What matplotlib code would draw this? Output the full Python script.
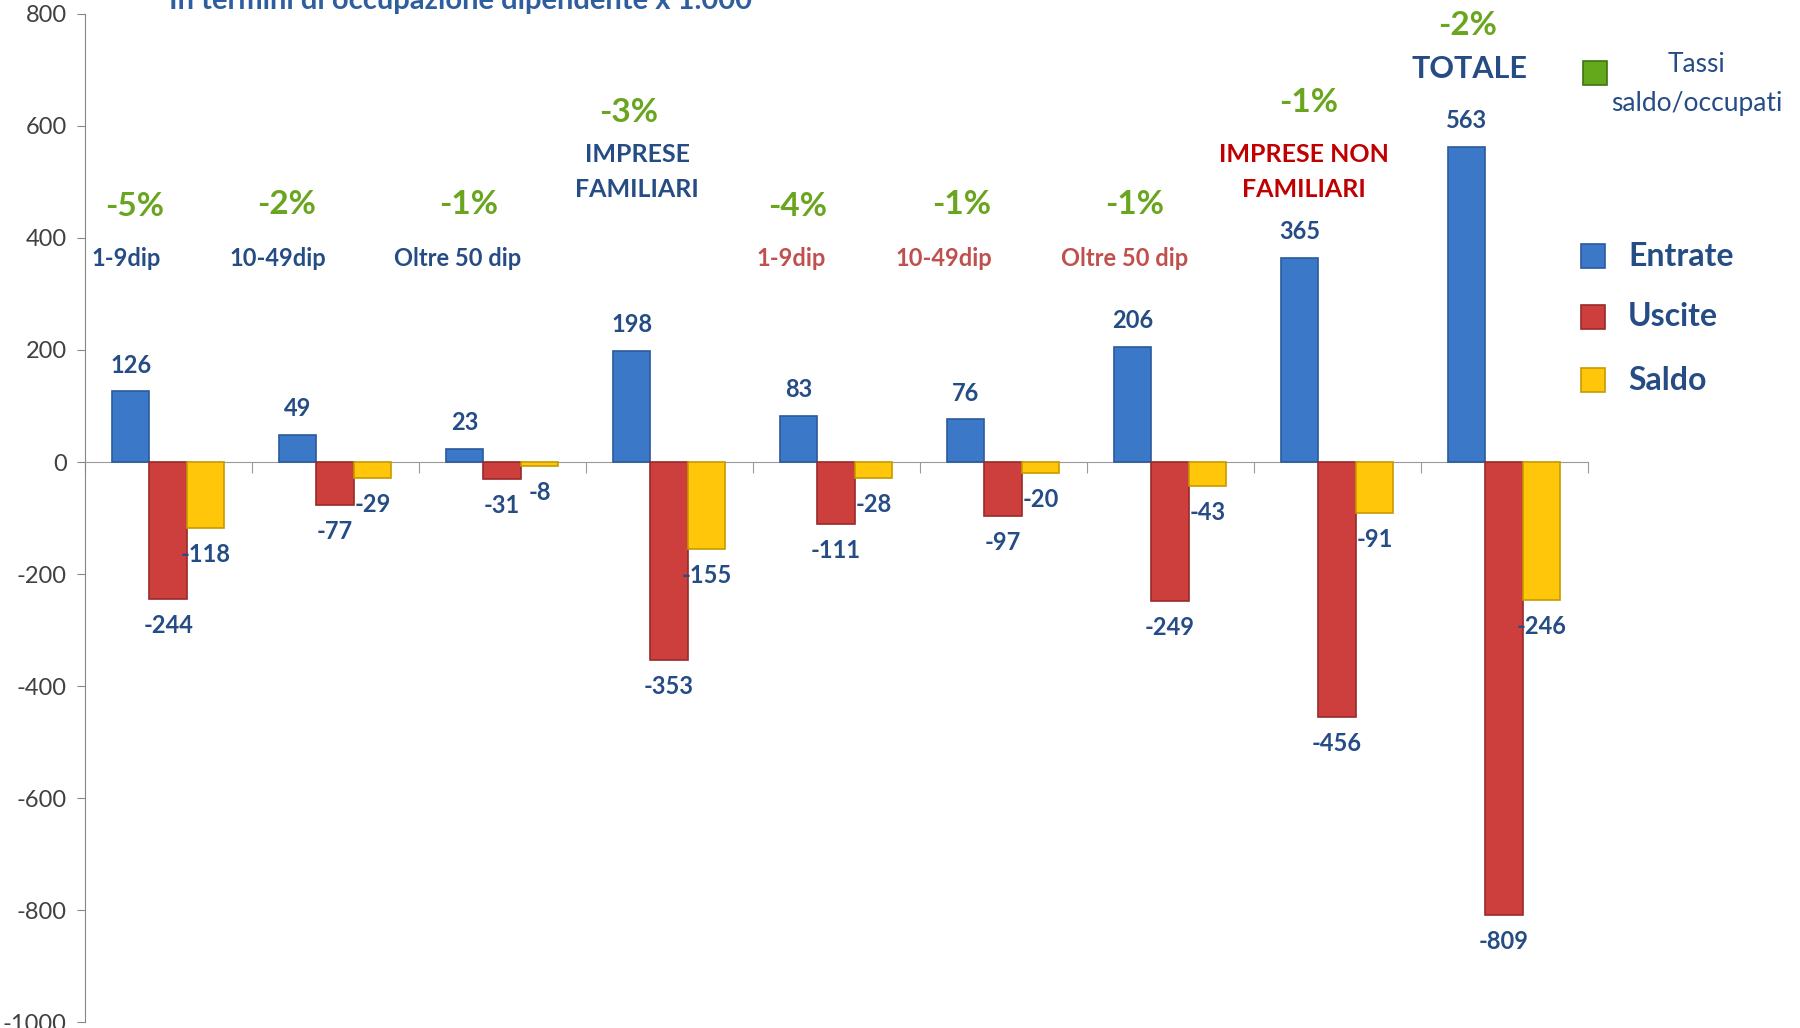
import numpy as np
import matplotlib
matplotlib.use("Agg")
import matplotlib.pyplot as plt
from matplotlib.patches import Rectangle

plt.rcParams["font.family"] = ["Lato", "DejaVu Sans"]

# --- data -------------------------------------------------------------
groups = ["1-9dip", "10-49dip", "Oltre 50 dip", "IMPRESE FAMILIARI",
          "1-9dip", "10-49dip", "Oltre 50 dip", "IMPRESE NON FAMILIARI",
          "TOTALE"]
entrate = [126, 49, 23, 198, 83, 76, 206, 365, 563]
uscite = [-244, -77, -31, -353, -111, -97, -249, -456, -809]
saldo = [-118, -29, -8, -155, -28, -20, -43, -91, -246]
tassi = ["-5%", "-2%", "-1%", "-3%", "-4%", "-1%", "-1%", "-1%", "-2%"]
yticks = [-1000, -800, -600, -400, -200, 0, 200, 400, 600, 800]

C_BLUE = "#3B78C8"
C_RED = "#CC3F3C"
C_YEL = "#FFC60A"
C_GREEN = "#6AA51F"
C_TXT = "#254C84"
C_SUBRED = "#C0504D"
C_DKRED = "#C00000"

fig = plt.figure(figsize=(18, 10.28), dpi=100)
ax = fig.add_axes([0.047, 0.0058, 0.835, 0.9806])

x = np.arange(len(groups))
w = 0.224
series = [(entrate, C_BLUE, "#2A5A9C", -w),
          (uscite, C_RED, "#962B29", 0.0),
          (saldo, C_YEL, "#C79A00", w)]

for vals, col, edge, off in series:
    bars = ax.bar(x + off, vals, width=w, color=col, edgecolor=edge,
                  linewidth=1.2, zorder=3)
    for b, v in zip(bars, vals):
        cx = b.get_x() + b.get_width() / 2
        dy = 19 if v > 0 else -19
        ax.annotate(f"{v}", (cx, v), xytext=(0, dy), textcoords="offset points",
                    ha="center", va="center", fontsize=17, fontweight="bold",
                    color=C_TXT, zorder=5)

# --- axes styling ------------------------------------------------------
ax.set_xlim(-0.5, len(groups) - 0.5)
ax.set_ylim(-1000, 800)
ax.set_yticks(yticks)
ax.set_yticklabels([str(t) for t in yticks], fontsize=17, color="#404040")
ax.set_xticks(np.arange(-0.5, len(groups), 1.0))
ax.set_xticklabels([])
for s in ("top", "right"):
    ax.spines[s].set_visible(False)
ax.spines["bottom"].set_position(("data", 0))
ax.spines["bottom"].set_color("#9A9A9A")
ax.spines["left"].set_color("#868686")
ax.tick_params(axis="x", direction="out", length=8, color="#9A9A9A")
ax.tick_params(axis="y", direction="out", length=6, pad=7, color="#868686")

# --- group annotations -------------------------------------------------
pct_pos = [(-0.20, 456), (0.71, 460), (1.80, 460), (2.76, 624), (3.77, 456),
           (4.75, 460), (5.79, 460), (6.83, 642), (7.78, 780)]
for (px, py), t in zip(pct_pos, tassi):
    ax.text(px, py, t, ha="center", va="center", fontsize=24,
            fontweight="bold", color=C_GREEN)

sub_pos = [(-0.25, 364), (0.655, 364), (1.735, 364), None, (3.73, 364),
           (4.645, 364), (5.725, 364), None, None]
sub_col = [C_TXT, C_TXT, C_TXT, None, C_SUBRED, C_SUBRED, C_SUBRED, None, None]
for pos, name, col in zip(sub_pos, groups, sub_col):
    if pos is None:
        continue
    ax.text(pos[0], pos[1], name, ha="center", va="center", fontsize=17,
            fontweight="bold", color=col)

ax.text(2.81, 518, "IMPRESE\nFAMILIARI", ha="center", va="center",
        fontsize=18, color=C_TXT, linespacing=1.6, fontweight="bold")
ax.text(6.80, 518, "IMPRESE NON\nFAMILIARI", ha="center", va="center",
        fontsize=18, color=C_DKRED, linespacing=1.6, fontweight="bold")
ax.text(7.79, 702, "TOTALE", ha="center", va="center", fontsize=22,
        fontweight="bold", color=C_TXT)

# --- title (cut at top like the original) ------------------------------
fig.text(0.256, 0.991, "In termini di occupazione dipendente x 1.000",
         ha="center", va="baseline", fontsize=21, fontweight="bold",
         color="#2F5E9E")

# --- legend -----------------------------------------------------------
W, H = 1800, 1028
sq = 24


def square(cx, cy, col, edge):
    fig.patches.append(Rectangle(((cx - sq / 2) / W, 1 - (cy + sq / 2) / H),
                                 sq / W, sq / H, transform=fig.transFigure,
                                 facecolor=col, edgecolor=edge, linewidth=1.2))


square(1595, 73, "#64A81C", "#3F7410")
fig.text(1697 / W, 1 - 64 / H, "Tassi", ha="center", va="center",
         fontsize=19, color=C_TXT)
fig.text(1697 / W, 1 - 103 / H, "saldo/occupati", ha="center", va="center",
         fontsize=19, color=C_TXT)

leg = [("Entrate", C_BLUE, "#2A5A9C", 256),
       ("Uscite", C_RED, "#962B29", 317),
       ("Saldo", C_YEL, "#C79A00", 380)]
for name, col, edge, cy in leg:
    square(1593, cy, col, edge)
    fig.text(1628 / W, 1 - cy / H, name, ha="left", va="center",
             fontsize=23, fontweight="bold", color=C_TXT)

fig.savefig("out.png", dpi=100)
